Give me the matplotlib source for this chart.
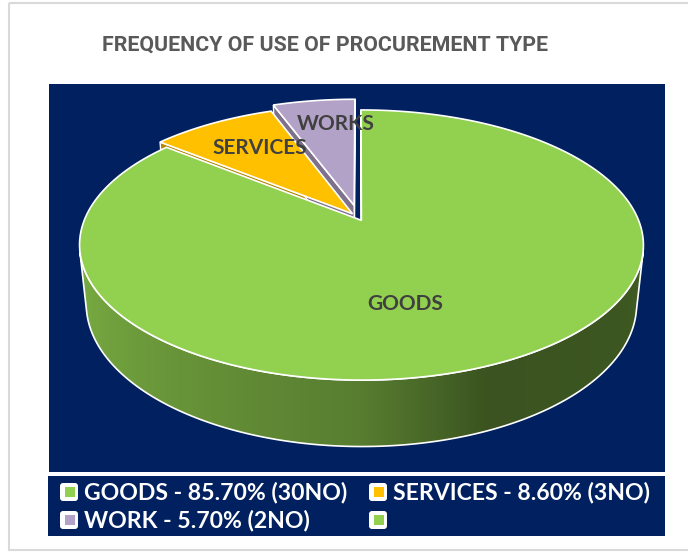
import numpy as np
import matplotlib
matplotlib.use('Agg')
import matplotlib.pyplot as plt
from matplotlib.patches import Polygon, Rectangle, FancyBboxPatch

# data
categories = ['GOODS', 'SERVICES', 'WORKS']
legend_names = ['GOODS', 'SERVICES', 'WORK']
shares = [85.7, 8.6, 5.7]
counts = [30, 3, 2]
colors = ['#92D050', '#FFC000', '#B3A2C7']
explode = [0.02, 0.04, 0.10]

title = 'FREQUENCY OF USE OF PROCUREMENT TYPE'
NAVY = '#00205F'

# perspective camera, pixel space
CX, CY = 359, 218
F, DIST = 1340, 4.85
ALPHA = np.radians(28)
H = 0.244
CAM = np.array([0, DIST * np.sin(ALPHA), -DIST * np.cos(ALPHA)])


def proj(x, y, z):
    depth = DIST - y * np.sin(ALPHA) + z * np.cos(ALPHA)
    up = y * np.cos(ALPHA) + z * np.sin(ALPHA)
    return np.column_stack([CX + F * x / depth, CY - F * up / depth])


def shade(hexcol, k):
    c = np.array(matplotlib.colors.to_rgb(hexcol))
    return tuple(np.clip(c * k, 0, 1))


fig = plt.figure(figsize=(6.88, 5.54), dpi=100)
ax = fig.add_axes([0, 0, 1, 1])
ax.set_xlim(0, 688)
ax.set_ylim(554, 0)
ax.axis('off')

ax.add_patch(Rectangle((9, 3), 700, 547, fill=False, ec='#D9D9D9', lw=1.5))
ax.add_patch(Rectangle((49, 84), 616, 388, fc=NAVY, ec='none'))
ax.add_patch(Rectangle((48, 476), 617, 60, fc=NAVY, ec='none'))

# slice angles, clockwise from 12 o'clock
starts, ends = [], []
a0 = 90.0
for s in shares:
    starts.append(a0)
    a0 -= s * 3.6
    ends.append(a0)

walls, sides, tops = [], [], []
lim = np.degrees(np.arcsin(-1 / (DIST * np.cos(ALPHA))))
v0, v1 = 180 - lim, 360 + lim
for i in range(len(shares)):
    st, en = starts[i], ends[i]
    mid = np.radians((st + en) / 2)
    ox, oz = explode[i] * np.cos(mid), explode[i] * np.sin(mid)
    t = np.radians(np.linspace(en, st, 200))
    rim_x, rim_z = ox + np.cos(t), oz + np.sin(t)
    top = np.vstack([proj(np.array([ox]), np.array([0.0]), np.array([oz])),
                     proj(rim_x, np.zeros_like(t), rim_z)])
    tops.append((top, colors[i]))

    # radial faces
    for b, sign in ((en, 1), (st, -1)):
        br = np.radians(b)
        n = sign * np.array([np.sin(br), -np.cos(br)])
        px, pz = ox + 0.5 * np.cos(br), oz + 0.5 * np.sin(br)
        if n[0] * (CAM[0] - px) + n[1] * (CAM[2] - pz) > 0:
            xs = np.array([ox, ox + np.cos(br), ox + np.cos(br), ox])
            zs = np.array([oz, oz + np.sin(br), oz + np.sin(br), oz])
            ys = np.array([0, 0, -H, -H])
            walls.append((proj(xs, ys, zs), shade(colors[i], 0.7)))

    # outer side, visible part only
    for shift in (-360, 0, 360):
        lo, hi = max(en + shift, v0), min(st + shift, v1)
        if hi > lo:
            sides.append((lo, hi, ox, oz, colors[i]))

for poly, c in walls:
    ax.add_patch(Polygon(poly, closed=True, fc=c, ec='white', lw=1.0))

ang_k = [193.5, 230, 270, 292, 330, 346.5]
fac_k = [0.84, 0.73, 0.60, 0.40, 0.42, 0.46]
for lo, hi, ox, oz, c in sides:
    ph = np.linspace(lo, hi, 400)
    r = np.radians(ph)
    tx, tz = ox + np.cos(r), oz + np.sin(r)
    top_edge = proj(tx, np.zeros_like(r), tz)
    bot_edge = proj(tx, -H * np.ones_like(r), tz)
    outline = np.vstack([top_edge, bot_edge[::-1]])
    # horizontal gradient following the wall angle
    xcols = np.linspace(outline[:, 0].min(), outline[:, 0].max(), 600)
    phx = np.interp(xcols, top_edge[:, 0], ph)
    k = np.interp(phx, ang_k, fac_k)
    base = np.array(matplotlib.colors.to_rgb(c))
    img = np.clip(k[None, :, None] * base[None, None, :], 0, 1)
    im = ax.imshow(img, extent=(xcols[0], xcols[-1], outline[:, 1].max() + 2,
                                outline[:, 1].min() - 2),
                   aspect='auto', interpolation='bilinear', zorder=1)
    clip = Polygon(outline, closed=True, transform=ax.transData)
    im.set_clip_path(clip)
    ax.add_patch(Polygon(outline, closed=True, fill=False, ec='white', lw=1.2, zorder=1.1))

for poly, c in tops:
    ax.add_patch(Polygon(poly, closed=True, fc=c, ec='white', lw=1.2, zorder=2))

lab_font = dict(family=['Lato', 'DejaVu Sans'], fontweight='bold', color='#404040', fontsize=15)
lab_pos = [(405, 304), (260, 148), (336, 124)]
for name, (x, y) in zip(categories, lab_pos):
    ax.text(x, y, name, ha='center', va='center', zorder=3, **lab_font)

ax.text(325, 45, title, ha='center', va='center', color='#595959', fontsize=15.4,
        fontweight='bold', family=['Roboto', 'DejaVu Sans'])

# legend
leg_labels = [f'{n} - {p:.2f}% ({c}NO)' for n, p, c in zip(legend_names, shares, counts)]
leg_labels = [leg_labels[0], leg_labels[1], leg_labels[2], '']
leg_colors = [colors[0], colors[1], colors[2], colors[0]]
leg_xy = [(60, 483), (369, 483), (60, 511), (369, 511)]
for (x, y), lab, c in zip(leg_xy, leg_labels, leg_colors):
    ax.add_patch(FancyBboxPatch((x + 2, y + 2), 14, 14, boxstyle='round,pad=2,rounding_size=3',
                                fc='white', ec='none'))
    ax.add_patch(Rectangle((x + 4.5, y + 4), 10, 10, fc=c, ec='none'))
    ax.text(x + 24, y + 9.5, lab, ha='left', va='center', color='white', fontsize=16.6,
            fontweight='bold', family=['Lato', 'DejaVu Sans'])

fig.savefig('out.png', dpi=100, facecolor='white')
